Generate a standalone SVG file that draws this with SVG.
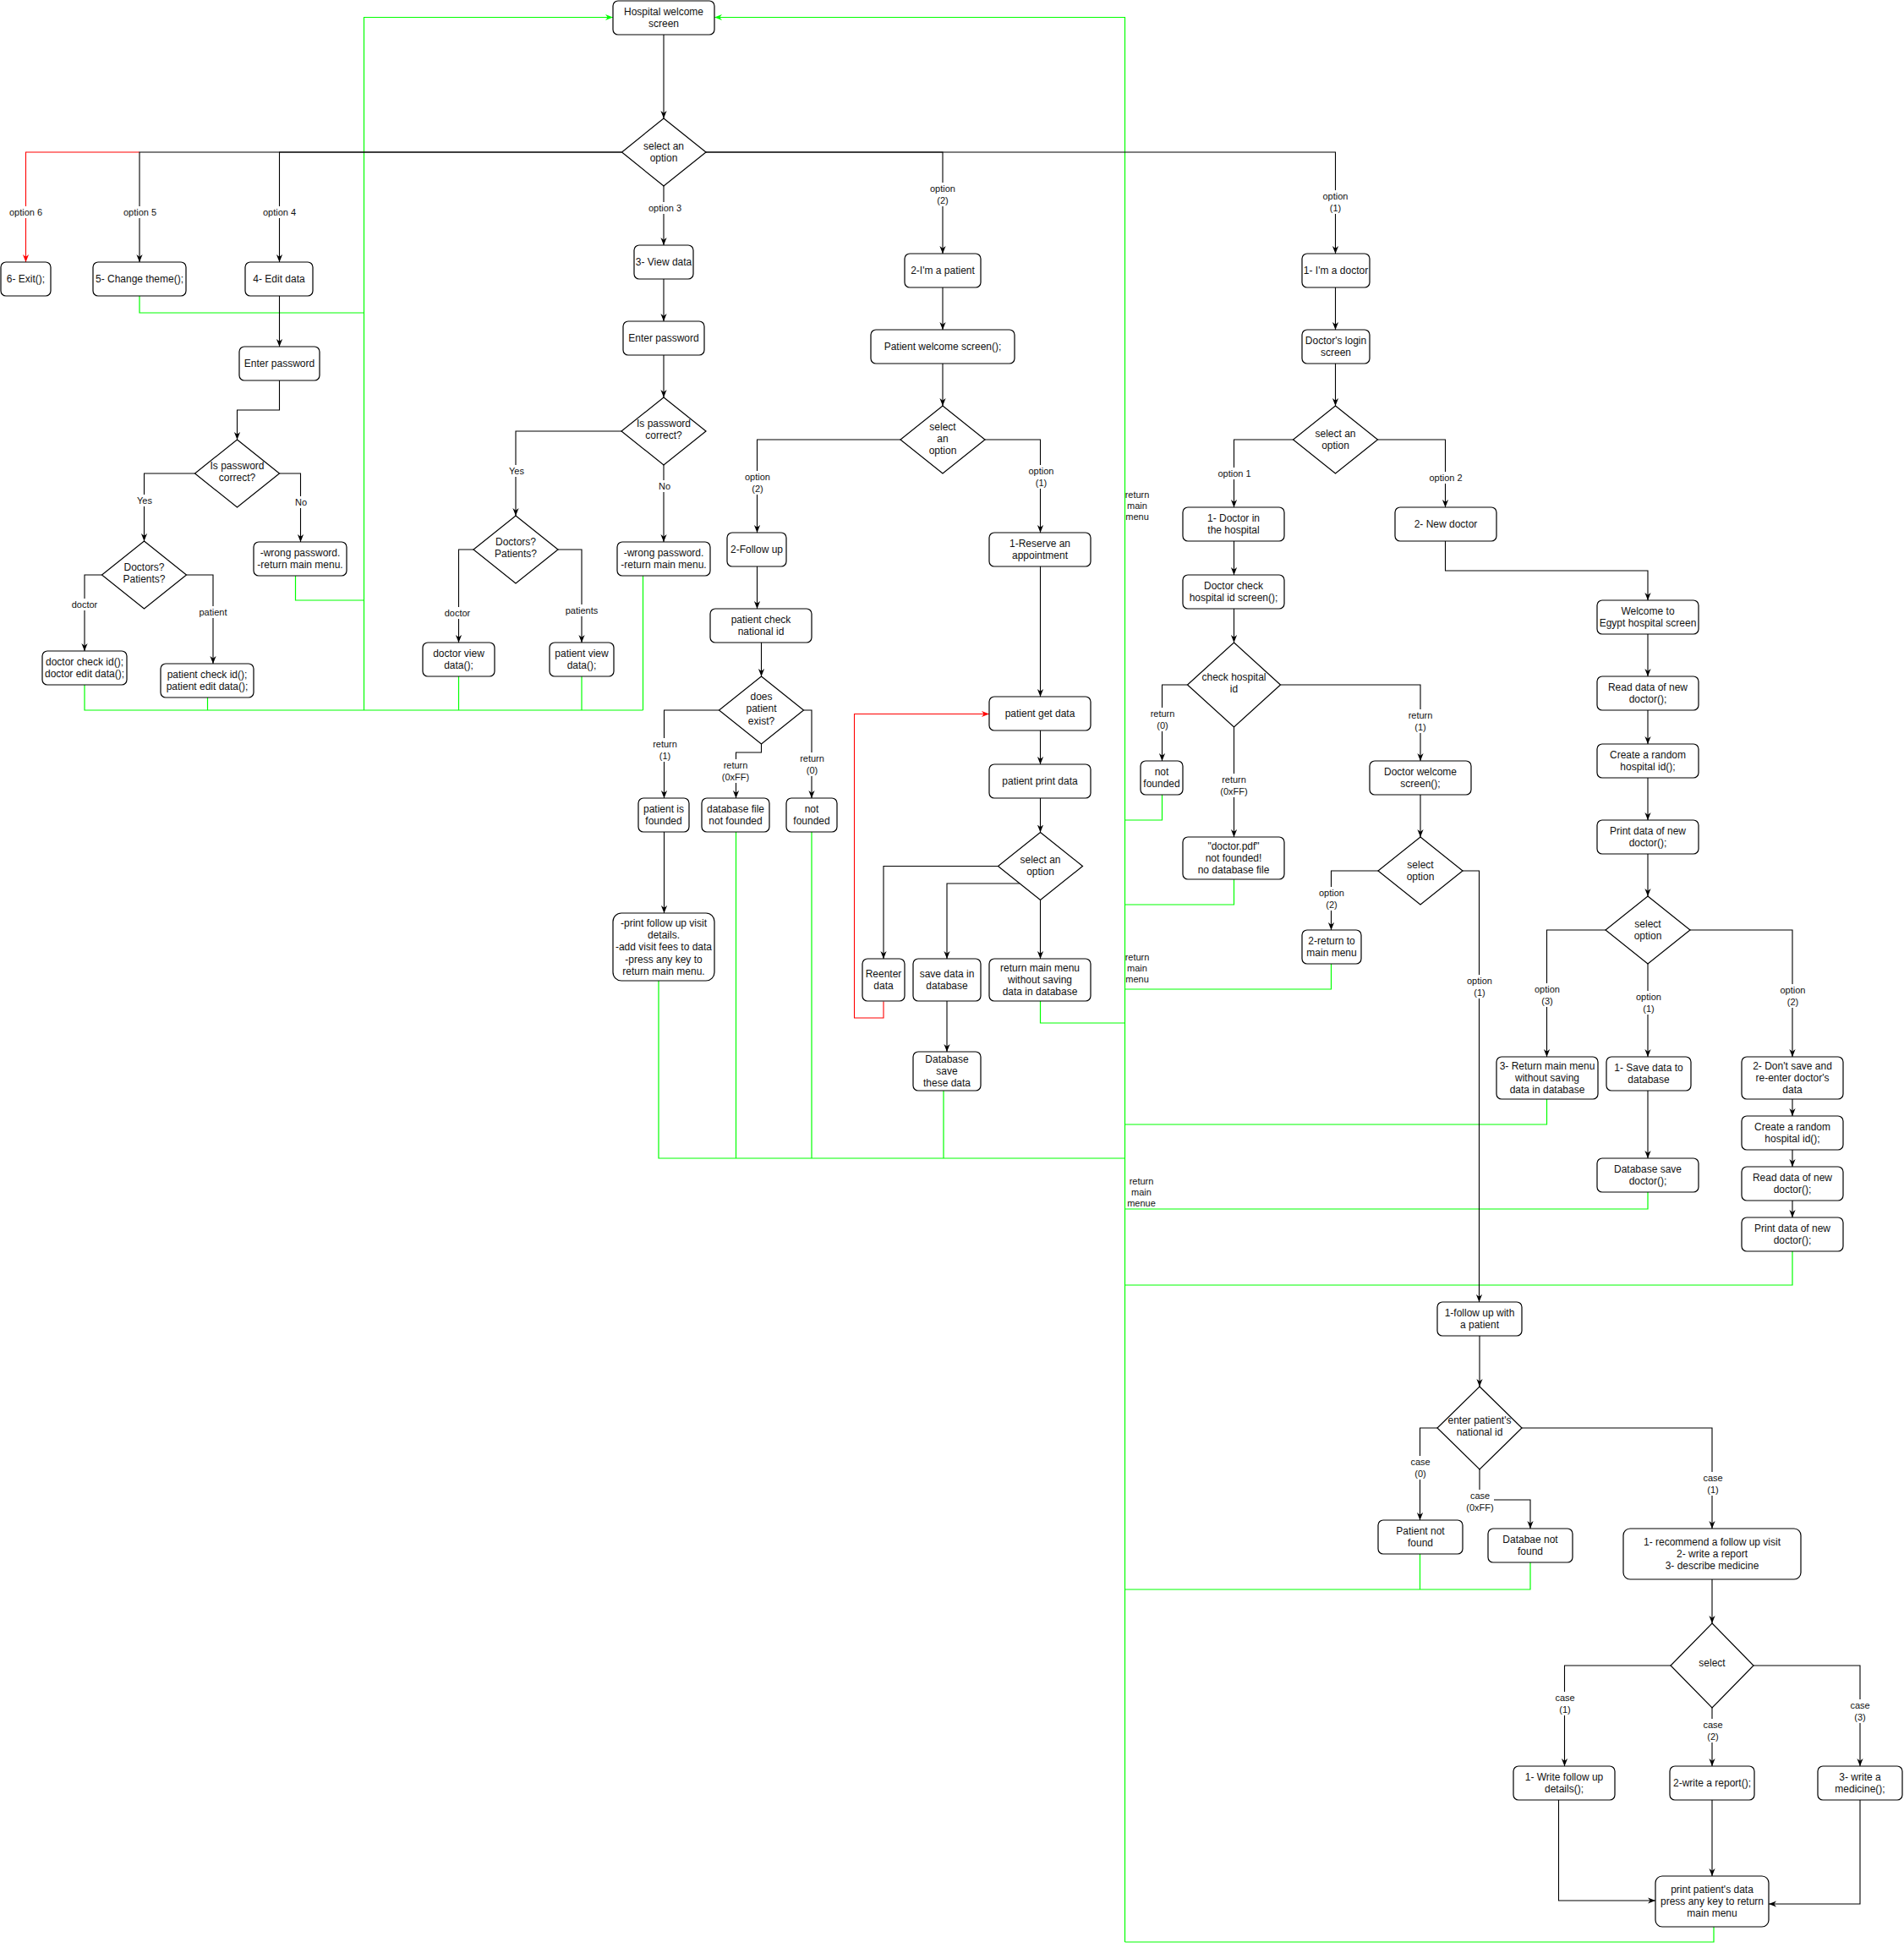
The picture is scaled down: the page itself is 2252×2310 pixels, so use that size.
<svg xmlns="http://www.w3.org/2000/svg" width="2252" height="2310" viewBox="0 0 2252 2310">
<defs>
<marker id="ak" viewBox="0 0 10 10" refX="10" refY="5" markerWidth="9" markerHeight="9" markerUnits="userSpaceOnUse" orient="auto"><path d="M0,1 L10,5 L0,9 L3,5 z" fill="#000"/></marker>
<marker id="ar" viewBox="0 0 10 10" refX="10" refY="5" markerWidth="9" markerHeight="9" markerUnits="userSpaceOnUse" orient="auto"><path d="M0,1 L10,5 L0,9 L3,5 z" fill="#ff0000"/></marker>
<marker id="ag" viewBox="0 0 10 10" refX="10" refY="5" markerWidth="9" markerHeight="9" markerUnits="userSpaceOnUse" orient="auto"><path d="M0,1 L10,5 L0,9 L3,5 z" fill="#00ff00"/></marker>
</defs>
<style>
.node rect,.node polygon{fill:#fff;stroke:#000;stroke-width:1.2}
.node text{font-family:"Liberation Sans",Arial,sans-serif;font-size:12px;text-anchor:middle;fill:#111}
.e{fill:none;stroke:#000;stroke-width:1.1;marker-end:url(#ak)}
.r{fill:none;stroke:#ff0000;stroke-width:1.1}
.g{fill:none;stroke:#00ff00;stroke-width:1.2}
.lbl rect{fill:#fff}
.lbl text,.gl text{font-family:"Liberation Sans",Arial,sans-serif;font-size:11px;text-anchor:middle;fill:#111}
</style>
<rect width="2252" height="2310" fill="#fff"/>

<g id="connectors">
<!-- red -->
<path class="r" d="M165,180 H30.5 V310" marker-end="url(#ar)"/>
<path class="r" d="M1045,1184.5 V1204 H1010.5 V844.5 H1170" marker-end="url(#ar)"/>
<!-- green -->
<path class="g" d="M430.5,840 V20.5 H725" marker-end="url(#ag)"/>
<path class="g" d="M165,350 V370 H430.5"/>
<path class="g" d="M349.5,681 V710 H430.5"/>
<path class="g" d="M100,810 V840 H760.5"/>
<path class="g" d="M245.5,825 V840"/>
<path class="g" d="M542.5,800 V840"/>
<path class="g" d="M688,800 V840"/>
<path class="g" d="M760.5,681 V840"/>
<path class="g" d="M1330.5,2297 V20.5 H845" marker-end="url(#ag)"/>
<path class="g" d="M1374.5,940 V970 H1330.5"/>
<path class="g" d="M1459.5,1040 V1070 H1330.5"/>
<path class="g" d="M1574.5,1140 V1170 H1330.5"/>
<path class="g" d="M1230.5,1184 V1210 H1330.5"/>
<path class="g" d="M1829.5,1300 V1330 H1330.5"/>
<path class="g" d="M779,1160 V1370 H1330.5"/>
<path class="g" d="M870.5,984 V1370"/>
<path class="g" d="M960,984 V1370"/>
<path class="g" d="M1116,1290 V1370"/>
<path class="g" d="M1949,1410 V1430 H1330.5"/>
<path class="g" d="M2120,1480 V1520 H1330.5"/>
<path class="g" d="M1810,1848 V1880 H1330.5"/>
<path class="g" d="M1679.5,1838 V1880"/>
<path class="g" d="M2027,2279 V2297 H1330.5"/>
<!-- black -->
<path class="e" d="M785,41 V140"/>
<path class="e" d="M735.5,180 H165 V310"/>
<path class="e" d="M735.5,180 H330.5 V310"/>
<path class="e" d="M785,220 V290"/>
<path class="e" d="M835,180 H1115 V300"/>
<path class="e" d="M835,180 H1579.5 V300"/>
<path class="e" d="M330.5,350 V410"/>
<path class="e" d="M330.5,450 V485 H280.5 V520"/>
<path class="e" d="M230.5,560 H170.5 V640"/>
<path class="e" d="M330.5,560 H355.5 V641"/>
<path class="e" d="M120.5,680 H100 V770"/>
<path class="e" d="M220.5,680 H252 V785"/>
<path class="e" d="M785,330 V380"/>
<path class="e" d="M785,420 V470"/>
<path class="e" d="M735,510 H610 V610"/>
<path class="e" d="M785,550 V641"/>
<path class="e" d="M560,650 H542.5 V760"/>
<path class="e" d="M660,650 H688 V760"/>
<path class="e" d="M1115,340 V390"/>
<path class="e" d="M1115,430 V480"/>
<path class="e" d="M1065,520 H895.5 V630"/>
<path class="e" d="M1165,520 H1230.5 V630"/>
<path class="e" d="M895.5,670 V720"/>
<path class="e" d="M900.5,760 V800"/>
<path class="e" d="M850.5,840 H785.5 V944"/>
<path class="e" d="M900.5,880 V890 H870.5 V944"/>
<path class="e" d="M950.5,840 H960 V944"/>
<path class="e" d="M785.5,984 V1080"/>
<path class="e" d="M1230.5,670 V824"/>
<path class="e" d="M1230.5,864 V904"/>
<path class="e" d="M1230.5,944 V984.5"/>
<path class="e" d="M1180.5,1024.5 H1045 V1134"/>
<path class="e" d="M1206,1045 H1120 V1134"/>
<path class="e" d="M1230.5,1064.5 V1134"/>
<path class="e" d="M1120,1184 V1244"/>
<path class="e" d="M1579.5,340 V390"/>
<path class="e" d="M1579.5,430 V480"/>
<path class="e" d="M1529.5,520 H1459.5 V600"/>
<path class="e" d="M1629.5,520 H1709.5 V600"/>
<path class="e" d="M1459.5,640 V680"/>
<path class="e" d="M1459.5,720 V760"/>
<path class="e" d="M1404.5,810 H1374.5 V900"/>
<path class="e" d="M1459.5,860 V990"/>
<path class="e" d="M1514.5,810 H1680 V900"/>
<path class="e" d="M1680,940 V990"/>
<path class="e" d="M1630,1030 H1574.5 V1100"/>
<path class="e" d="M1730,1030 H1749.5 V1540"/>
<path class="e" d="M1709.5,640 V675 H1949 V710"/>
<path class="e" d="M1949,750 V800"/>
<path class="e" d="M1949,840 V880"/>
<path class="e" d="M1949,920 V970"/>
<path class="e" d="M1949,1010 V1060"/>
<path class="e" d="M1899,1100 H1829.5 V1250"/>
<path class="e" d="M1949,1140 V1250"/>
<path class="e" d="M1999,1100 H2120 V1250"/>
<path class="e" d="M1949,1290 V1370"/>
<path class="e" d="M2120,1300 V1320"/>
<path class="e" d="M2120,1360 V1380"/>
<path class="e" d="M2120,1420 V1440"/>
<path class="e" d="M1750,1580 V1640"/>
<path class="e" d="M1700,1689 H1679.5 V1798"/>
<path class="e" d="M1750,1738 V1774 H1810 V1808"/>
<path class="e" d="M1800,1689 H2025 V1808"/>
<path class="e" d="M2025,1868 V1920"/>
<path class="e" d="M1976,1970 H1850.5 V2089"/>
<path class="e" d="M2025,2020 V2089"/>
<path class="e" d="M2074,1970 H2200 V2089"/>
<path class="e" d="M1843.5,2129 V2248 H1958"/>
<path class="e" d="M2025,2129 V2219"/>
<path class="e" d="M2200,2129 V2252 H2092"/>

<!-- edge labels -->
<g class="lbl"><rect x="10" y="244" width="41" height="14"/><text x="30.5" y="255">option 6</text></g>
<g class="lbl"><rect x="145" y="244" width="41" height="14"/><text x="165.5" y="255">option 5</text></g>
<g class="lbl"><rect x="310" y="244" width="41" height="14"/><text x="330.5" y="255">option 4</text></g>
<g class="lbl"><rect x="766" y="239" width="41" height="14"/><text x="786.5" y="250">option 3</text></g>
<g class="lbl"><rect x="1097" y="216" width="36" height="28"/><text x="1115" y="227"><tspan x="1115">option</tspan><tspan x="1115" dy="13.5">(2)</tspan></text></g>
<g class="lbl"><rect x="1561" y="225" width="37" height="28"/><text x="1579.5" y="236"><tspan x="1579.5">option</tspan><tspan x="1579.5" dy="13.5">(1)</tspan></text></g>
<g class="lbl"><rect x="161" y="585" width="20" height="14"/><text x="171" y="596">Yes</text></g>
<g class="lbl"><rect x="348" y="587" width="16" height="14"/><text x="356" y="598">No</text></g>
<g class="lbl"><rect x="83" y="708" width="34" height="14"/><text x="100" y="719">doctor</text></g>
<g class="lbl"><rect x="233" y="717" width="38" height="14"/><text x="252" y="728">patient</text></g>
<g class="lbl"><rect x="601" y="550" width="20" height="14"/><text x="611" y="561">Yes</text></g>
<g class="lbl"><rect x="778" y="568" width="16" height="14"/><text x="786" y="579">No</text></g>
<g class="lbl"><rect x="524" y="718" width="34" height="14"/><text x="541" y="729">doctor</text></g>
<g class="lbl"><rect x="666" y="715" width="44" height="14"/><text x="688" y="726">patients</text></g>
<g class="lbl"><rect x="878" y="557" width="36" height="28"/><text x="896" y="568"><tspan x="896">option</tspan><tspan x="896" dy="13.5">(2)</tspan></text></g>
<g class="lbl"><rect x="1213" y="550" width="37" height="28"/><text x="1231.5" y="561"><tspan x="1231.5">option</tspan><tspan x="1231.5" dy="13.5">(1)</tspan></text></g>
<g class="lbl"><rect x="770" y="873" width="33" height="28"/><text x="786.5" y="884"><tspan x="786.5">return</tspan><tspan x="786.5" dy="13.5">(1)</tspan></text></g>
<g class="lbl"><rect x="853" y="898" width="34" height="28"/><text x="870" y="909"><tspan x="870">return</tspan><tspan x="870" dy="13.5">(0xFF)</tspan></text></g>
<g class="lbl"><rect x="944" y="890" width="33" height="28"/><text x="960.5" y="901"><tspan x="960.5">return</tspan><tspan x="960.5" dy="13.5">(0)</tspan></text></g>
<g class="lbl"><rect x="1439" y="553" width="42" height="14"/><text x="1460" y="564">option 1</text></g>
<g class="lbl"><rect x="1689" y="558" width="42" height="14"/><text x="1710" y="569">option 2</text></g>
<g class="lbl"><rect x="1358" y="837" width="34" height="28"/><text x="1375" y="848"><tspan x="1375">return</tspan><tspan x="1375" dy="13.5">(0)</tspan></text></g>
<g class="lbl"><rect x="1442" y="915" width="35" height="28"/><text x="1459.5" y="926"><tspan x="1459.5">return</tspan><tspan x="1459.5" dy="13.5">(0xFF)</tspan></text></g>
<g class="lbl"><rect x="1663" y="839" width="34" height="28"/><text x="1680" y="850"><tspan x="1680">return</tspan><tspan x="1680" dy="13.5">(1)</tspan></text></g>
<g class="lbl"><rect x="1557" y="1049" width="36" height="28"/><text x="1575" y="1060"><tspan x="1575">option</tspan><tspan x="1575" dy="13.5">(2)</tspan></text></g>
<g class="lbl"><rect x="1732" y="1153" width="36" height="28"/><text x="1750" y="1164"><tspan x="1750">option</tspan><tspan x="1750" dy="13.5">(1)</tspan></text></g>
<g class="lbl"><rect x="1812" y="1163" width="36" height="28"/><text x="1830" y="1174"><tspan x="1830">option</tspan><tspan x="1830" dy="13.5">(3)</tspan></text></g>
<g class="lbl"><rect x="1932" y="1172" width="36" height="28"/><text x="1950" y="1183"><tspan x="1950">option</tspan><tspan x="1950" dy="13.5">(1)</tspan></text></g>
<g class="lbl"><rect x="2102" y="1164" width="37" height="28"/><text x="2120.5" y="1175"><tspan x="2120.5">option</tspan><tspan x="2120.5" dy="13.5">(2)</tspan></text></g>
<g class="lbl"><rect x="1667" y="1722" width="26" height="28"/><text x="1680" y="1733"><tspan x="1680">case</tspan><tspan x="1680" dy="13.5">(0)</tspan></text></g>
<g class="lbl"><rect x="1734" y="1762" width="33" height="28"/><text x="1750.5" y="1773"><tspan x="1750.5">case</tspan><tspan x="1750.5" dy="13.5">(0xFF)</tspan></text></g>
<g class="lbl"><rect x="2013" y="1741" width="26" height="28"/><text x="2026" y="1752"><tspan x="2026">case</tspan><tspan x="2026" dy="13.5">(1)</tspan></text></g>
<g class="lbl"><rect x="1838" y="2001" width="26" height="28"/><text x="1851" y="2012"><tspan x="1851">case</tspan><tspan x="1851" dy="13.5">(1)</tspan></text></g>
<g class="lbl"><rect x="2013" y="2033" width="26" height="28"/><text x="2026" y="2044"><tspan x="2026">case</tspan><tspan x="2026" dy="13.5">(2)</tspan></text></g>
<g class="lbl"><rect x="2187" y="2010" width="26" height="28"/><text x="2200" y="2021"><tspan x="2200">case</tspan><tspan x="2200" dy="13.5">(3)</tspan></text></g>
<g class="gl"><text x="1345" y="588.5"><tspan x="1345">return</tspan><tspan x="1345" dy="13.4">main</tspan><tspan x="1345" dy="13.4">menu</tspan></text></g>
<g class="gl"><text x="1345" y="1135.5"><tspan x="1345">return</tspan><tspan x="1345" dy="13.4">main</tspan><tspan x="1345" dy="13.4">menu</tspan></text></g>
<g class="gl"><text x="1350" y="1400.5"><tspan x="1350">return</tspan><tspan x="1350" dy="13.4">main</tspan><tspan x="1350" dy="13.4">menue</tspan></text></g>
</g>

<g id="n-hospital-welcome" class="node"><rect x="725" y="1" width="120" height="40" rx="6"/><text x="785" y="17.5"><tspan x="785">Hospital welcome</tspan><tspan x="785" dy="14.4">screen</tspan></text></g>
<g id="d-main-select" class="node"><polygon points="785,140 835,180 785,220 735.5,180"/><text x="785" y="176.5"><tspan x="785">select an</tspan><tspan x="785" dy="14.4">option</tspan></text></g>
<g id="n-exit" class="node"><rect x="1" y="310" width="59" height="40" rx="6"/><text x="30.5" y="334">6- Exit();</text></g>
<g id="n-change-theme" class="node"><rect x="110" y="310" width="110" height="40" rx="6"/><text x="165" y="334">5- Change theme();</text></g>
<g id="n-edit-data" class="node"><rect x="290" y="310" width="80" height="40" rx="6"/><text x="330" y="334">4- Edit data</text></g>
<g id="n-edit-password" class="node"><rect x="283" y="410" width="95" height="40" rx="6"/><text x="330.5" y="434">Enter password</text></g>
<g id="d-edit-pwcheck" class="node"><polygon points="280.5,520 330.5,560 280.5,600 230.5,560"/><text x="280.5" y="555"><tspan x="280.5">Is password</tspan><tspan x="280.5" dy="14.4">correct?</tspan></text></g>
<g id="d-edit-who" class="node"><polygon points="170.5,640 220.5,680 170.5,720 120.5,680"/><text x="170.5" y="675"><tspan x="170.5">Doctors?</tspan><tspan x="170.5" dy="14.4">Patients?</tspan></text></g>
<g id="n-edit-wrong" class="node"><rect x="300" y="641" width="110" height="40" rx="6"/><text x="355" y="657.5"><tspan x="355">-wrong password.</tspan><tspan x="355" dy="14.4">-return main menu.</tspan></text></g>
<g id="n-doctor-edit" class="node"><rect x="50" y="770" width="100" height="40" rx="6"/><text x="100" y="786.5"><tspan x="100">doctor check id();</tspan><tspan x="100" dy="14.4">doctor edit data();</tspan></text></g>
<g id="n-patient-edit" class="node"><rect x="190" y="785" width="110" height="40" rx="6"/><text x="245" y="801.5"><tspan x="245">patient check id();</tspan><tspan x="245" dy="14.4">patient edit data();</tspan></text></g>

<g id="n-view-data" class="node"><rect x="750" y="290" width="70" height="40" rx="6"/><text x="785" y="314">3- View data</text></g>
<g id="n-view-password" class="node"><rect x="737" y="380" width="96" height="40" rx="6"/><text x="785" y="404">Enter password</text></g>
<g id="d-view-pwcheck" class="node"><polygon points="785,470 835,510 785,550 735,510"/><text x="785" y="505"><tspan x="785">Is password</tspan><tspan x="785" dy="14.4">correct?</tspan></text></g>
<g id="d-view-who" class="node"><polygon points="610,610 660,650 610,690 560,650"/><text x="610" y="645"><tspan x="610">Doctors?</tspan><tspan x="610" dy="14.4">Patients?</tspan></text></g>
<g id="n-view-wrong" class="node"><rect x="730" y="641" width="110" height="40" rx="6"/><text x="785" y="657.5"><tspan x="785">-wrong password.</tspan><tspan x="785" dy="14.4">-return main menu.</tspan></text></g>
<g id="n-doctor-view" class="node"><rect x="500" y="760" width="85" height="40" rx="6"/><text x="542.5" y="776.5"><tspan x="542.5">doctor view</tspan><tspan x="542.5" dy="14.4">data();</tspan></text></g>
<g id="n-patient-view" class="node"><rect x="650" y="760" width="76" height="40" rx="6"/><text x="688" y="776.5"><tspan x="688">patient view</tspan><tspan x="688" dy="14.4">data();</tspan></text></g>

<g id="n-im-patient" class="node"><rect x="1070" y="300" width="90" height="40" rx="6"/><text x="1115" y="324">2-I'm a patient</text></g>
<g id="n-patient-welcome" class="node"><rect x="1030" y="390" width="170" height="40" rx="6"/><text x="1115" y="414">Patient welcome screen();</text></g>
<g id="d-patient-select" class="node"><polygon points="1115,480 1165,520 1115,560 1065,520"/><text x="1115" y="508.5"><tspan x="1115">select</tspan><tspan x="1115" dy="14.4">an</tspan><tspan x="1115" dy="14.4">option</tspan></text></g>
<g id="n-follow-up" class="node"><rect x="860" y="630" width="70" height="40" rx="6"/><text x="895" y="654">2-Follow up</text></g>
<g id="n-patient-check-nid" class="node"><rect x="840" y="720" width="120" height="40" rx="6"/><text x="900" y="736.5"><tspan x="900">patient check</tspan><tspan x="900" dy="14.4">national id</tspan></text></g>
<g id="d-patient-exist" class="node"><polygon points="900.5,800 950.5,840 900.5,880 850.5,840"/><text x="900.5" y="828"><tspan x="900.5">does</tspan><tspan x="900.5" dy="14.4">patient</tspan><tspan x="900.5" dy="14.4">exist?</tspan></text></g>
<g id="n-patient-founded" class="node"><rect x="755" y="944" width="60" height="40" rx="6"/><text x="785" y="960.5"><tspan x="785">patient is</tspan><tspan x="785" dy="14.4">founded</tspan></text></g>
<g id="n-dbfile-notfound" class="node"><rect x="830" y="944" width="80" height="40" rx="6"/><text x="870" y="960.5"><tspan x="870">database file</tspan><tspan x="870" dy="14.4">not founded</tspan></text></g>
<g id="n-patient-notfound" class="node"><rect x="930" y="944" width="60" height="40" rx="6"/><text x="960" y="960.5"><tspan x="960">not</tspan><tspan x="960" dy="14.4">founded</tspan></text></g>
<g id="n-print-followup" class="node"><rect x="725" y="1080" width="120" height="80" rx="10"/><text x="785" y="1095.5"><tspan x="785">-print follow up visit</tspan><tspan x="785" dy="14.4">details.</tspan><tspan x="785" dy="14.4">-add visit fees to data</tspan><tspan x="785" dy="14.4">-press any key to</tspan><tspan x="785" dy="14.4">return main menu.</tspan></text></g>
<g id="n-reserve" class="node"><rect x="1170" y="630" width="120" height="40" rx="6"/><text x="1230" y="646.5"><tspan x="1230">1-Reserve an</tspan><tspan x="1230" dy="14.4">appointment</tspan></text></g>
<g id="n-patient-get" class="node"><rect x="1170" y="824" width="120" height="40" rx="6"/><text x="1230" y="848">patient get data</text></g>
<g id="n-patient-print" class="node"><rect x="1170" y="904" width="120" height="40" rx="6"/><text x="1230" y="928">patient print data</text></g>
<g id="d-reserve-select" class="node"><polygon points="1230.5,984.5 1280.5,1024.5 1230.5,1064.5 1180.5,1024.5"/><text x="1230.5" y="1021"><tspan x="1230.5">select an</tspan><tspan x="1230.5" dy="14.4">option</tspan></text></g>
<g id="n-reenter" class="node"><rect x="1020" y="1134" width="50" height="50" rx="6"/><text x="1045" y="1155.5"><tspan x="1045">Reenter</tspan><tspan x="1045" dy="14.4">data</tspan></text></g>
<g id="n-save-db" class="node"><rect x="1080" y="1134" width="80" height="50" rx="6"/><text x="1120" y="1155.5"><tspan x="1120">save data in</tspan><tspan x="1120" dy="14.4">database</tspan></text></g>
<g id="n-return-nosave" class="node"><rect x="1170" y="1134" width="120" height="50" rx="6"/><text x="1230" y="1148.5"><tspan x="1230">return main menu</tspan><tspan x="1230" dy="14.4">without saving</tspan><tspan x="1230" dy="14.4">data in database</tspan></text></g>
<g id="n-db-save-these" class="node"><rect x="1080" y="1244" width="80" height="46" rx="6"/><text x="1120" y="1256.5"><tspan x="1120">Database</tspan><tspan x="1120" dy="14.4">save</tspan><tspan x="1120" dy="14.4">these data</tspan></text></g>

<g id="n-im-doctor" class="node"><rect x="1540" y="300" width="80" height="40" rx="6"/><text x="1580" y="324">1- I'm a doctor</text></g>
<g id="n-doctor-login" class="node"><rect x="1540" y="390" width="80" height="40" rx="6"/><text x="1580" y="406.5"><tspan x="1580">Doctor's login</tspan><tspan x="1580" dy="14.4">screen</tspan></text></g>
<g id="d-doctor-select" class="node"><polygon points="1579.5,480 1629.5,520 1579.5,560 1529.5,520"/><text x="1579.5" y="516.5"><tspan x="1579.5">select an</tspan><tspan x="1579.5" dy="14.4">option</tspan></text></g>
<g id="n-doctor-in" class="node"><rect x="1399" y="600" width="120" height="40" rx="6"/><text x="1459" y="616.5"><tspan x="1459">1- Doctor in</tspan><tspan x="1459" dy="14.4">the hospital</tspan></text></g>
<g id="n-doctor-check-hid" class="node"><rect x="1399" y="680" width="120" height="40" rx="6"/><text x="1459" y="696.5"><tspan x="1459">Doctor check</tspan><tspan x="1459" dy="14.4">hospital id screen();</tspan></text></g>
<g id="d-check-hid" class="node"><polygon points="1459.5,760 1514.5,810 1459.5,860 1404.5,810"/><text x="1459.5" y="805"><tspan x="1459.5">check hospital</tspan><tspan x="1459.5" dy="14.4">id</tspan></text></g>
<g id="n-doctor-notfound" class="node"><rect x="1349" y="900" width="50" height="40" rx="6"/><text x="1374" y="916.5"><tspan x="1374">not</tspan><tspan x="1374" dy="14.4">founded</tspan></text></g>
<g id="n-doctorpdf" class="node"><rect x="1399" y="990" width="120" height="50" rx="6"/><text x="1459" y="1004.5"><tspan x="1459">"doctor.pdf"</tspan><tspan x="1459" dy="14.4">not founded!</tspan><tspan x="1459" dy="14.4">no database file</tspan></text></g>
<g id="n-doctor-welcome" class="node"><rect x="1620" y="900" width="120" height="40" rx="6"/><text x="1680" y="916.5"><tspan x="1680">Doctor welcome</tspan><tspan x="1680" dy="14.4">screen();</tspan></text></g>
<g id="d-doctor-welcome-select" class="node"><polygon points="1680,990 1730,1030 1680,1070 1630,1030"/><text x="1680" y="1026.5"><tspan x="1680">select</tspan><tspan x="1680" dy="14.4">option</tspan></text></g>
<g id="n-return-main2" class="node"><rect x="1540" y="1100" width="70" height="40" rx="6"/><text x="1575" y="1116.5"><tspan x="1575">2-return to</tspan><tspan x="1575" dy="14.4">main menu</tspan></text></g>
<g id="n-new-doctor" class="node"><rect x="1650" y="600" width="120" height="40" rx="6"/><text x="1710" y="624">2- New doctor</text></g>
<g id="n-welcome-egypt" class="node"><rect x="1889" y="710" width="120" height="40" rx="6"/><text x="1949" y="726.5"><tspan x="1949">Welcome to</tspan><tspan x="1949" dy="14.4">Egypt hospital screen</tspan></text></g>
<g id="n-read-new" class="node"><rect x="1889" y="800" width="120" height="40" rx="6"/><text x="1949" y="816.5"><tspan x="1949">Read data of new</tspan><tspan x="1949" dy="14.4">doctor();</tspan></text></g>
<g id="n-create-hid" class="node"><rect x="1889" y="880" width="120" height="40" rx="6"/><text x="1949" y="896.5"><tspan x="1949">Create a random</tspan><tspan x="1949" dy="14.4">hospital id();</tspan></text></g>
<g id="n-print-new" class="node"><rect x="1889" y="970" width="120" height="40" rx="6"/><text x="1949" y="986.5"><tspan x="1949">Print data of new</tspan><tspan x="1949" dy="14.4">doctor();</tspan></text></g>
<g id="d-new-select" class="node"><polygon points="1949,1060 1999,1100 1949,1140 1899,1100"/><text x="1949" y="1096.5"><tspan x="1949">select</tspan><tspan x="1949" dy="14.4">option</tspan></text></g>
<g id="n-return-nosave2" class="node"><rect x="1770" y="1250" width="120" height="50" rx="6"/><text x="1830" y="1264.5"><tspan x="1830">3- Return main menu</tspan><tspan x="1830" dy="14.4">without saving</tspan><tspan x="1830" dy="14.4">data in database</tspan></text></g>
<g id="n-save-doctor" class="node"><rect x="1900" y="1250" width="100" height="40" rx="6"/><text x="1950" y="1266.5"><tspan x="1950">1- Save data to</tspan><tspan x="1950" dy="14.4">database</tspan></text></g>
<g id="n-dont-save" class="node"><rect x="2060" y="1250" width="120" height="50" rx="6"/><text x="2120" y="1264.5"><tspan x="2120">2- Don't save and</tspan><tspan x="2120" dy="14.4">re-enter doctor's</tspan><tspan x="2120" dy="14.4">data</tspan></text></g>
<g id="n-create-hid2" class="node"><rect x="2060" y="1320" width="120" height="40" rx="6"/><text x="2120" y="1336.5"><tspan x="2120">Create a random</tspan><tspan x="2120" dy="14.4">hospital id();</tspan></text></g>
<g id="n-read-new2" class="node"><rect x="2060" y="1380" width="120" height="40" rx="6"/><text x="2120" y="1396.5"><tspan x="2120">Read data of new</tspan><tspan x="2120" dy="14.4">doctor();</tspan></text></g>
<g id="n-print-new2" class="node"><rect x="2060" y="1440" width="120" height="40" rx="6"/><text x="2120" y="1456.5"><tspan x="2120">Print data of new</tspan><tspan x="2120" dy="14.4">doctor();</tspan></text></g>
<g id="n-db-save-doctor" class="node"><rect x="1889" y="1370" width="120" height="40" rx="6"/><text x="1949" y="1386.5"><tspan x="1949">Database save</tspan><tspan x="1949" dy="14.4">doctor();</tspan></text></g>

<g id="n-followup-patient" class="node"><rect x="1700" y="1540" width="100" height="40" rx="6"/><text x="1750" y="1556.5"><tspan x="1750">1-follow up with</tspan><tspan x="1750" dy="14.4">a patient</tspan></text></g>
<g id="d-enter-nid" class="node"><polygon points="1750,1640 1800,1689 1750,1738 1700,1689"/><text x="1750" y="1684"><tspan x="1750">enter patient's</tspan><tspan x="1750" dy="14.4">national id</tspan></text></g>
<g id="n-pnotfound" class="node"><rect x="1630" y="1798" width="100" height="40" rx="6"/><text x="1680" y="1814.5"><tspan x="1680">Patient not</tspan><tspan x="1680" dy="14.4">found</tspan></text></g>
<g id="n-dbnotfound" class="node"><rect x="1760" y="1808" width="100" height="40" rx="6"/><text x="1810" y="1824.5"><tspan x="1810">Databae not</tspan><tspan x="1810" dy="14.4">found</tspan></text></g>
<g id="n-recommend" class="node"><rect x="1920" y="1808" width="210" height="60" rx="8"/><text x="2025" y="1827.5"><tspan x="2025">1- recommend a follow up visit</tspan><tspan x="2025" dy="14.4">2- write a report</tspan><tspan x="2025" dy="14.4">3- describe medicine</tspan></text></g>
<g id="d-case-select" class="node"><polygon points="2025,1920 2074,1970 2025,2020 1976,1970"/><text x="2025" y="1971">select</text></g>
<g id="n-write-followup" class="node"><rect x="1790" y="2089" width="120" height="40" rx="6"/><text x="1850" y="2105.5"><tspan x="1850">1- Write follow up</tspan><tspan x="1850" dy="14.4">details();</tspan></text></g>
<g id="n-write-report" class="node"><rect x="1975" y="2089" width="100" height="40" rx="6"/><text x="2025" y="2113">2-write a report();</text></g>
<g id="n-write-medicine" class="node"><rect x="2150" y="2089" width="100" height="40" rx="6"/><text x="2200" y="2105.5"><tspan x="2200">3- write a</tspan><tspan x="2200" dy="14.4">medicine();</tspan></text></g>
<g id="n-print-patient" class="node"><rect x="1958" y="2219" width="134" height="60" rx="8"/><text x="2025" y="2238.5"><tspan x="2025">print patient's data</tspan><tspan x="2025" dy="14.4">press any key to return</tspan><tspan x="2025" dy="14.4">main menu</tspan></text></g>
</svg>
